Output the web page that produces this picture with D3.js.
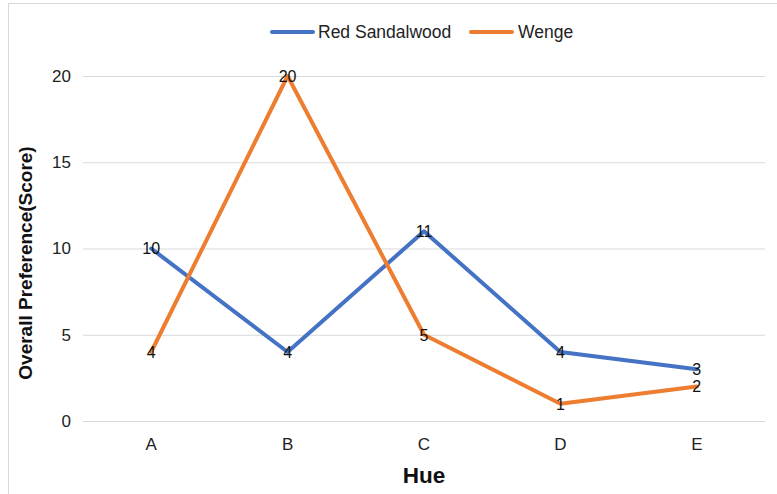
<!DOCTYPE html>
<html><head><meta charset="utf-8">
<script src="https://cdn.jsdelivr.net/npm/d3@7"></script>
<style>body{margin:0;background:#fff;}svg{display:block;font-family:"Liberation Sans",Arial,sans-serif;}</style>
</head><body>
<svg id="c" width="777" height="494"></svg>
<script>
const categories = ["A","B","C","D","E"];
const seriesNames = ["Red Sandalwood","Wenge"];
const redSandalwood = [10,4,11,4,3];
const wenge = [4,20,5,1,2];
const yTicks = [0,5,10,15,20];
const colors = ["#4472C4","#ED7D31"];
const series = [redSandalwood, wenge];

const svg = d3.select("#c");
svg.append("rect").attr("x",8.5).attr("y",3.5).attr("width",800).attr("height",600)
  .attr("fill","#fff").attr("stroke","#d9d9d9").attr("stroke-width",1);

const L=83, R=765, T=76, B=421;
const x = d3.scaleBand().domain(categories).range([L,R]);
const y = d3.scaleLinear().domain([0,20]).range([B,T]);

const grid = svg.append("g");
yTicks.forEach(t=>{
  grid.append("line").attr("x1",L).attr("x2",R).attr("y1",y(t)+0.5).attr("y2",y(t)+0.5)
    .attr("stroke","#d9d9d9").attr("stroke-width",1);
});
const yAxis = svg.append("g").attr("transform",`translate(${L},0)`)
  .call(d3.axisLeft(y).tickValues(yTicks).tickSize(0).tickPadding(12));
yAxis.select(".domain").remove();
yAxis.selectAll("text").attr("font-size",17).attr("fill","#222").attr("font-family","Liberation Sans, Arial, sans-serif");

const xAxis = svg.append("g").attr("transform",`translate(0,${B})`)
  .call(d3.axisBottom(x).tickSize(0).tickPadding(17));
xAxis.select(".domain").remove();
xAxis.selectAll("text").attr("font-size",17).attr("fill","#222").attr("font-family","Liberation Sans, Arial, sans-serif");

const cx = c => x(c)+x.bandwidth()/2;
const line = d3.line().x((d,i)=>cx(categories[i])).y(d=>y(d));
series.forEach((s,k)=>{
  svg.append("path").datum(s).attr("d",line).attr("fill","none")
    .attr("stroke",colors[k]).attr("stroke-width",4).attr("stroke-linejoin","round").attr("stroke-linecap","round");
});
series.forEach((s,k)=>{
  svg.append("g").selectAll("text").data(s).join("text")
    .attr("x",(d,i)=>cx(categories[i])).attr("y",d=>y(d)).attr("dy","0.36em")
    .attr("text-anchor","middle").attr("font-size",16).attr("fill","#111").text(d=>d);
});

// legend
const leg = [{x:272,tx:318},{x:471,tx:518}];
seriesNames.forEach((n,k)=>{
  svg.append("line").attr("x1",leg[k].x).attr("x2",leg[k].x+41).attr("y1",32).attr("y2",32)
    .attr("stroke",colors[k]).attr("stroke-width",4).attr("stroke-linecap","round");
  svg.append("text").attr("x",leg[k].tx).attr("y",32).attr("dy","0.36em")
    .attr("font-size",17.5).attr("fill","#222").text(n);
});

svg.append("text").attr("x",cx("C")).attr("y",483).attr("text-anchor","middle")
  .attr("font-size",22.5).attr("font-weight","bold").attr("fill","#111").text("Hue");
svg.append("text").attr("transform",`translate(25,263) rotate(-90)`).attr("dy","0.35em").attr("text-anchor","middle")
  .attr("font-size",19).attr("font-weight","bold").attr("fill","#111").text("Overall Preference(Score)");
</script>
</body></html>
